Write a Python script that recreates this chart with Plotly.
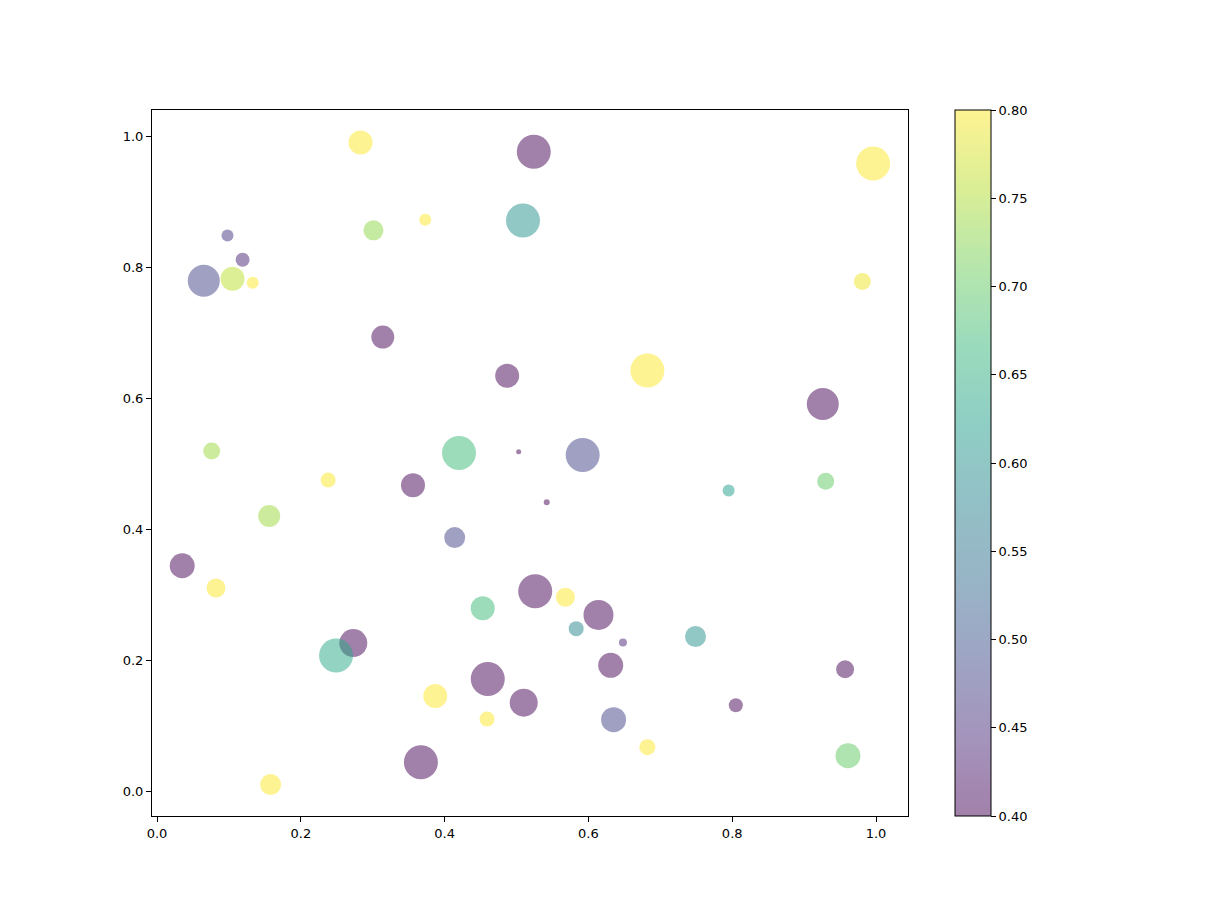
import plotly.graph_objects as go
import plotly.colors as pc

xs = [0.283,0.524,0.996,0.373,0.509,0.301,0.098,0.119,0.065,0.105,0.133,0.981,0.314,0.487,0.682,0.926,0.076,0.420,0.503,0.592,0.795,0.930,0.238,0.356,0.542,0.156,0.414,0.035,0.082,0.526,0.568,0.453,0.614,0.583,0.648,0.749,0.273,0.249,0.631,0.957,0.460,0.387,0.510,0.805,0.459,0.635,0.682,0.367,0.961,0.158]
ys = [0.990,0.976,0.958,0.872,0.871,0.856,0.848,0.811,0.779,0.782,0.776,0.778,0.693,0.634,0.642,0.591,0.519,0.516,0.518,0.513,0.459,0.473,0.475,0.467,0.441,0.420,0.387,0.344,0.310,0.305,0.296,0.279,0.269,0.248,0.227,0.236,0.226,0.207,0.192,0.186,0.171,0.145,0.135,0.131,0.110,0.109,0.067,0.044,0.054,0.010]
diam = [24,34,34,12,34,20,12,14,32,24,12,17,23,24,34,32,17,34,5,34,12,17,15,24,6,22,21,25,19,34,19,24,30,15,8,21,28,34,25,18,34,24,28,14,15,25,16,34,25,21]
vals = [0.8,0.4,0.8,0.8,0.6,0.73,0.46,0.44,0.48,0.76,0.8,0.79,0.4,0.4,0.8,0.4,0.74,0.67,0.4,0.48,0.62,0.7,0.8,0.4,0.4,0.74,0.48,0.4,0.8,0.4,0.8,0.67,0.4,0.58,0.44,0.6,0.4,0.64,0.4,0.4,0.4,0.8,0.4,0.4,0.8,0.48,0.8,0.4,0.7,0.8]

# faded viridis for the colorbar (alpha 0.5 over white)
faded = []
vir = pc.sequential.Viridis
for i, c in enumerate(vir):
    r, g, b = pc.hex_to_rgb(c)
    faded.append([i/(len(vir)-1), f"rgb({(r+255)/2:.0f},{(g+255)/2:.0f},{(b+255)/2:.0f})"])

fig = go.Figure()
fig.add_trace(go.Scatter(x=xs, y=ys, mode="markers",
    marker=dict(size=diam, color=vals, colorscale="Viridis", cmin=0.4, cmax=0.8,
                opacity=0.5, line=dict(width=0), showscale=False),
    hoverinfo="x+y"))
fig.add_trace(go.Scatter(x=[None], y=[None], mode="markers", showlegend=False,
    marker=dict(color=[0.4], colorscale=faded, cmin=0.4, cmax=0.8, showscale=True,
                colorbar=dict(x=1.062, xanchor="left", y=0.5, yanchor="middle", len=1,
                              xpad=0, ypad=0,
                              thickness=36, outlinewidth=1, outlinecolor="black",
                              tickmode="array", tickvals=[0.4+0.05*i for i in range(9)],
                              ticktext=[f"{0.4+0.05*i:.2f}" for i in range(9)],
                              ticks="outside", ticklen=5, tickcolor="black"))))
ax = dict(showgrid=False, zeroline=False, showline=True, linecolor="black", mirror=True,
          ticks="outside", ticklen=5, tickcolor="black")
fig.update_xaxes(range=[-0.007, 1.0445], tickvals=[0,0.2,0.4,0.6,0.8,1.0],
                 ticktext=["0.0","0.2","0.4","0.6","0.8","1.0"], **ax)
fig.update_yaxes(range=[-0.038, 1.0397], tickvals=[0,0.2,0.4,0.6,0.8,1.0],
                 ticktext=["0.0","0.2","0.4","0.6","0.8","1.0"], **ax)
fig.update_layout(width=1211, height=909, margin=dict(l=144, r=311, t=102, b=101),
                  plot_bgcolor="white", paper_bgcolor="white", showlegend=False,
                  font=dict(family="DejaVu Sans", size=13, color="black"))
fig.write_html("out.html")
